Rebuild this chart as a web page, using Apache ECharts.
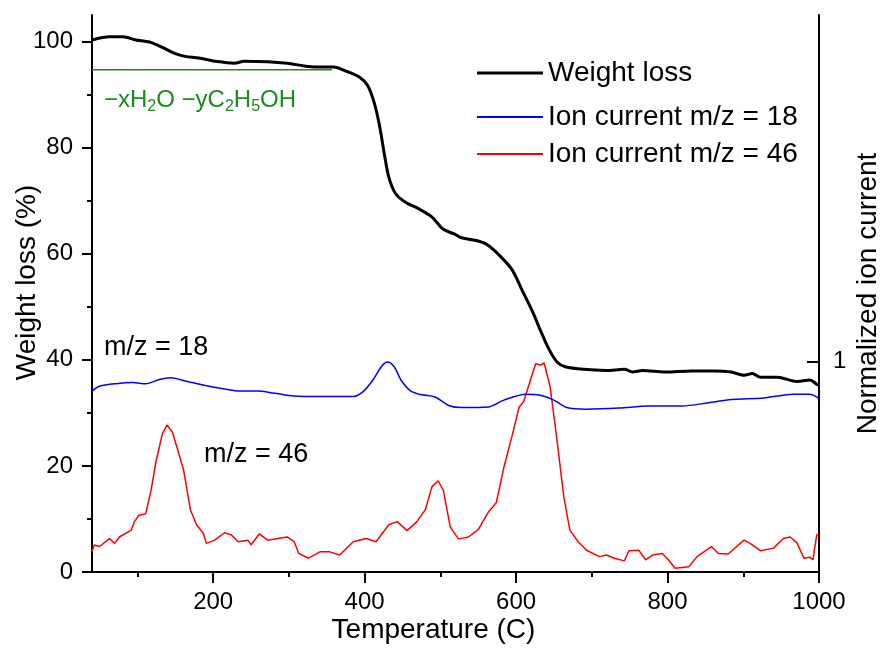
<!DOCTYPE html>
<html><head><meta charset="utf-8">
<script src="https://cdn.jsdelivr.net/npm/echarts@6/dist/echarts.min.js"></script>
<style>html,body{margin:0;padding:0;background:#fff}#c{width:890px;height:649px}</style>
</head><body><div id="c"></div>
<script>
// ---- Data ----
const xTickLabels = [200, 400, 600, 800, 1000];
const xMinorTicks = [100, 300, 500, 700, 900];
const yTickLabels = [0, 20, 40, 60, 80, 100];
const yMinorTicks = [10, 30, 50, 70, 90];
const rightTickAt = [39.7]; // position of normalized value 1 (left-axis units)

const weightT = [40,63,81,98,116,133,150,163,181,202,228,241,272,298,320,337,359,376,393,404,413,420,426,432,441,454,471,489,504,519,528,550,563,580,595,608,621,632,643,654,665,689,719,743,754,767,797,832,862,884,901,912,923,945,971,988,997,1000];
const weightV = [100.3,100.9,100.9,100.3,99.9,98.9,97.7,97.2,96.9,96.3,95.9,96.3,96.2,95.9,95.4,95.2,95.2,94.4,93.3,91.7,88.3,83.9,78.8,74.4,71.3,69.7,68.5,66.9,64.6,63.7,63.0,62.4,61.6,59.4,56.9,53.1,49.3,45.6,42.1,39.6,38.7,38.2,38.0,38.2,37.7,38.0,37.7,37.9,37.9,37.7,37.1,37.4,36.7,36.7,35.9,36.2,35.4,35.2];

const ion18T = [40,50,72,94,111,129,144,163,185,211,237,259,281,307,341,385,398,411,422,430,439,448,461,476,493,511,528,563,584,613,632,650,667,693,736,775,819,854,884,927,966,988,997,1000];
const ion18V = [34.1,35.0,35.5,35.7,35.5,36.3,36.6,36.0,35.3,34.6,34.1,34.1,33.7,33.2,33.1,33.1,34.0,36.2,38.7,39.6,38.7,36.2,34.1,33.4,33.0,31.4,31.0,31.1,32.4,33.5,33.3,32.4,31.0,30.7,30.9,31.3,31.3,31.9,32.5,32.8,33.5,33.5,33.0,32.6];

const ion46T = [40,43,50,63,70,76,92,96,102,111,118,124,133,139,146,152,161,170,178,187,191,202,215,224,233,246,250,261,272,285,298,307,313,326,341,354,367,385,402,415,432,443,456,469,480,489,497,504,513,524,537,550,563,574,584,595,604,610,619,626,632,637,645,654,663,671,682,693,710,719,730,743,749,762,771,780,793,801,810,828,839,858,867,880,901,910,923,940,953,962,971,980,988,992,997,1000];
const ion46V = [3.8,5.1,4.8,6.3,5.4,6.6,7.9,9.5,10.7,11.0,15.4,20.5,26.1,27.7,26.4,23.6,19.2,11.7,8.9,7.3,5.4,6.0,7.4,7.0,5.7,6.0,5.1,7.2,6.0,6.3,6.6,5.7,3.5,2.6,3.8,3.8,3.2,5.7,6.3,5.7,8.9,9.5,7.8,9.5,11.7,16.1,17.2,15.4,8.5,6.2,6.6,8.0,11.2,13.1,19.8,25.8,31.1,32.1,36.2,39.3,39.0,39.4,34.9,24.9,14.2,7.9,5.7,4.1,2.9,3.2,2.6,2.1,4.0,4.1,2.3,3.2,3.5,2.3,0.7,1.0,2.9,4.8,3.5,3.4,6.0,5.3,4.0,4.5,6.3,6.6,5.5,2.6,2.8,2.3,7.0,7.2];

const stepT = [40, 357];
const stepV = [94.7, 94.7];

const zip = (a, b) => a.map((v, i) => [v, b[i]]);

const FONT = 'Liberation Sans, Arial, sans-serif';
const chart = echarts.init(document.getElementById('c'), null, {renderer: 'canvas'});

const legendBase = {
  orient: 'vertical', left: 472, itemWidth: 66, itemGap: 10,
  textStyle: {fontFamily: FONT, fontSize: 28, color: '#000'},
  icon: 'rect', itemHeight: 2, selectedMode: false
};

chart.setOption({
  animation: false,
  backgroundColor: '#fff',
  grid: {left: 92, right: 62, top: 15, bottom: 77},
  legend: [
    Object.assign({}, legendBase, {top: 54, data: ['Weight loss'], itemHeight: 3}),
    Object.assign({}, legendBase, {top: 98, data: ['Ion current m/z = 18']}),
    Object.assign({}, legendBase, {top: 135, data: ['Ion current m/z = 46']})
  ],
  xAxis: [{
    type: 'value', min: 40, max: 1000, position: 'bottom',
    name: 'Temperature (C)', nameLocation: 'middle', nameGap: 44, nameMoveOverlap: false,
    nameTextStyle: {fontFamily: FONT, fontSize: 28, color: '#000', padding: [0, 44, 0, 0]},
    axisLine: {lineStyle: {color: '#000', width: 2}},
    axisTick: {customValues: xTickLabels, length: 11, inside: false, lineStyle: {color: '#000', width: 2}},
    axisLabel: {customValues: xTickLabels, formatter: v => String(v), fontFamily: FONT, fontSize: 24, color: '#000', margin: 18},
    splitLine: {show: false}
  }, {
    type: 'value', min: 40, max: 1000, position: 'bottom',
    axisLine: {show: false},
    axisTick: {customValues: xMinorTicks, length: 5, lineStyle: {color: '#000', width: 2}},
    axisLabel: {show: false},
    splitLine: {show: false}
  }],
  yAxis: [{
    type: 'value', min: 0, max: 105, position: 'left',
    name: 'Weight loss (%)', nameLocation: 'middle', nameGap: 51, nameRotate: 90, nameMoveOverlap: false,
    nameTextStyle: {fontFamily: FONT, fontSize: 28, color: '#000', padding: [0, 0, 0, 22]},
    axisLine: {show: true, lineStyle: {color: '#000', width: 2}},
    axisTick: {show: true, customValues: yTickLabels, length: 10, lineStyle: {color: '#000', width: 2}},
    axisLabel: {customValues: yTickLabels, fontFamily: FONT, fontSize: 24, color: '#000', margin: 19},
    splitLine: {show: false}
  }, {
    type: 'value', min: 0, max: 105, position: 'left',
    axisLine: {show: false},
    axisTick: {show: true, customValues: yMinorTicks, length: 5, lineStyle: {color: '#000', width: 2}},
    axisLabel: {show: false},
    splitLine: {show: false}
  }, {
    type: 'value', min: 0, max: 105, position: 'right',
    name: 'Normalized ion current', nameLocation: 'middle', nameGap: 35, nameRotate: 90, nameMoveOverlap: false,
    nameTextStyle: {fontFamily: FONT, fontSize: 28, color: '#000'},
    axisLine: {show: true, lineStyle: {color: '#000', width: 2}},
    axisTick: {show: true, inside: true, customValues: rightTickAt, length: 12, lineStyle: {color: '#000', width: 2}},
    axisLabel: {customValues: rightTickAt, formatter: () => '1', fontFamily: FONT, fontSize: 24, color: '#000', margin: 14},
    splitLine: {show: false}
  }],
  series: [
    {name: 'Weight loss', type: 'line', data: zip(weightT, weightV), showSymbol: false, symbol: 'none', smooth: 0.3,
     lineStyle: {color: '#000', width: 3}, itemStyle: {color: '#000'}, z: 5},
    {name: 'Ion current m/z = 18', type: 'line', data: zip(ion18T, ion18V), showSymbol: false, symbol: 'none', smooth: 0.3,
     lineStyle: {color: '#0000ff', width: 1.5}, itemStyle: {color: '#0000ff'}, z: 4},
    {name: 'Ion current m/z = 46', type: 'line', data: zip(ion46T, ion46V), showSymbol: false, symbol: 'none',
     lineStyle: {color: '#ff0000', width: 1.5}, itemStyle: {color: '#ff0000'}, z: 3},
    {name: 'step', type: 'line', data: zip(stepT, stepV), showSymbol: false, symbol: 'none',
     lineStyle: {color: '#1a8c1a', width: 1.5}, z: 2}
  ],
  graphic: [
    {type: 'text', left: 104, top: 88, style: {
      text: '{m|−xH}{s|2}{m|O −yC}{s|2}{m|H}{s|5}{m|OH}',
      rich: {
        m: {fontFamily: FONT, fontSize: 24, fill: '#1a8c1a', verticalAlign: 'bottom', height: 28},
        s: {fontFamily: FONT, fontSize: 16, fill: '#1a8c1a', verticalAlign: 'bottom', padding: [0,0,-7,0], height: 28}
      }}},
    {type: 'text', left: 104, top: 334, style: {text: 'm/z = 18', font: '27px ' + FONT, fill: '#000'}},
    {type: 'text', left: 204, top: 441, style: {text: 'm/z = 46', font: '27px ' + FONT, fill: '#000'}}
  ]
});
</script></body></html>
